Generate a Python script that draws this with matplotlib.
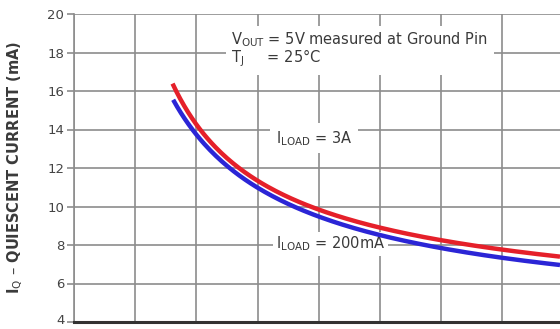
import numpy as np
import matplotlib
matplotlib.use('Agg')
import matplotlib.pyplot as plt
import matplotlib.transforms as mtransforms

# values (x in grid divisions, y in mA)
x_pts = [1.61, 2.03, 3.01, 3.99, 5.0, 5.98, 6.99, 7.94]
iq_3a = [16.47, 13.95, 11.47, 9.84, 8.81, 8.29, 7.78, 7.39]
x_pts_b = [1.62, 2.03, 3.01, 3.99, 5.0, 5.98, 6.99, 7.94]
iq_200ma = [15.54, 13.6, 11.04, 9.41, 8.47, 7.9, 7.39, 6.92]
y_ticks = [4, 6, 8, 10, 12, 14, 16, 18, 20]
x_grid = [0, 1, 2, 3, 4, 5, 6, 7]


def smooth(xs, ys, n=200):
    # smooth curve through the read points (fit in log-log space)
    xs = np.asarray(xs)
    ys = np.asarray(ys)
    xx = np.linspace(xs[0], xs[-1], n)
    coef = np.polyfit(np.log(xs), np.log(ys), 3)
    return xx, np.exp(np.polyval(coef, np.log(xx)))


fig = plt.figure(figsize=(5.6, 3.29), dpi=100)
ax = fig.add_axes([74 / 560, 7 / 329, 1 - 74 / 560, 308 / 329])

grid_col = '#8c8c8c'
txt_col = '#3a3a3a'
ax.set_xlim(0, 7.94)
ax.set_ylim(4, 20)
ax.set_yticks(y_ticks)
ax.set_xticks(x_grid)
ax.grid(True, color=grid_col, linewidth=1.2)
ax.tick_params(axis='y', length=5, width=1.2, color=grid_col, labelsize=9.5,
               labelcolor='#444444', pad=2)
ax.tick_params(axis='x', length=0, labelbottom=False)

# nudge the lowest tick label up so it stays inside the picture
fig.canvas.draw()
lowest = ax.get_yticklabels()[0]
lowest.set_transform(lowest.get_transform() +
                     mtransforms.ScaledTranslation(0, 3 / 100, fig.dpi_scale_trans))

ax.spines['top'].set_visible(False)
ax.spines['right'].set_visible(False)
ax.spines['left'].set_color(grid_col)
ax.spines['left'].set_linewidth(1.2)
ax.spines['bottom'].set_color('#333333')
ax.spines['bottom'].set_linewidth(2.2)

xr, yr = smooth(x_pts, iq_3a)
xb, yb = smooth(x_pts_b, iq_200ma)
ax.plot(xr, yr, color='#e5202a', linewidth=3.2, solid_capstyle='butt', zorder=3)
ax.plot(xb, yb, color='#2b25d6', linewidth=3.2, solid_capstyle='butt', zorder=3)

box = dict(facecolor='white', edgecolor='none', pad=4)
fs = 10.5
ax.text(2.57, 18.15, r'V$_{\rm OUT}$ = 5V measured at Ground Pin' + '\n' +
        r'T$_{\rm J}$     = 25°C', fontsize=fs, color=txt_col,
        va='center', ha='left', linespacing=0.95, bbox=box, zorder=4)
ax.text(3.3, 13.55, r'I$_{\rm LOAD}$ = 3A', fontsize=fs, color=txt_col,
        va='center', ha='left', bbox=box, zorder=4)
ax.text(3.3, 8.05, r'I$_{\rm LOAD}$ = 200mA', fontsize=fs, color=txt_col,
        va='center', ha='left', bbox=dict(facecolor='white', edgecolor='none', pad=2),
        zorder=2)

fig.text(15 / 560, 1 - 168 / 329,
         r'I$_{\rm Q}$ – QUIESCENT CURRENT $\mathregular{(mA)}$',
         rotation=90, ha='center', va='center', fontsize=10.5,
         fontweight='bold', color=txt_col)

fig.savefig('out.png', dpi=100)
